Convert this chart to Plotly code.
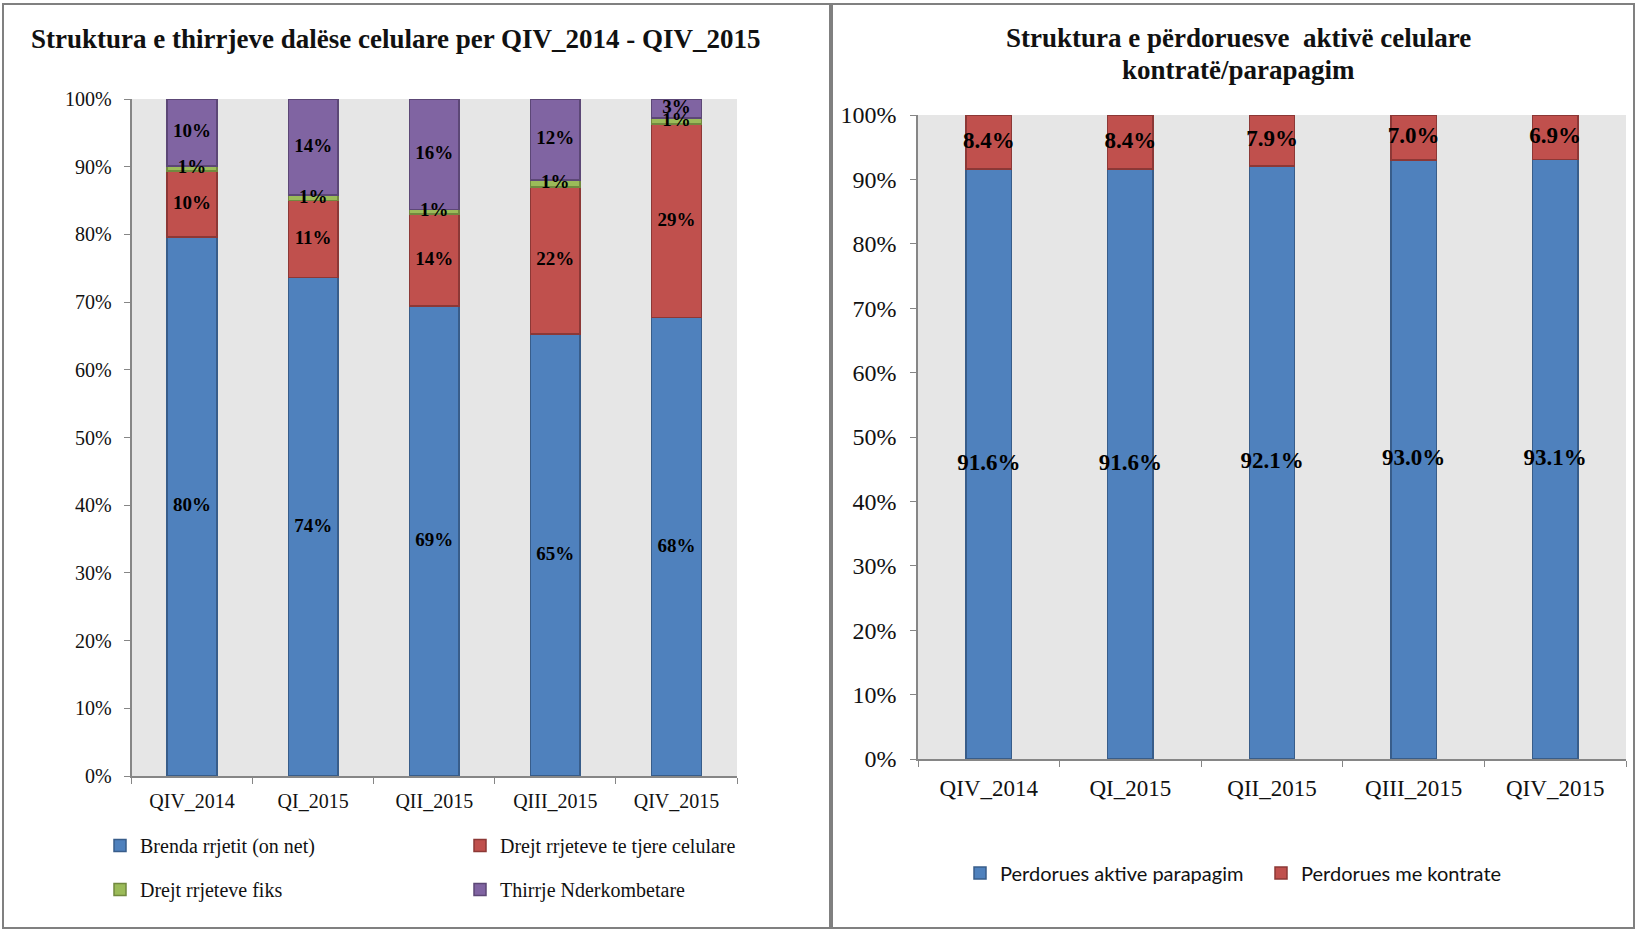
import numpy as np
import plotly.graph_objects as go

# ---------------- data ----------------
quarters = ["QIV_2014", "QI_2015", "QII_2015", "QIII_2015", "QIV_2015"]

# left chart: structure of outgoing mobile calls (%)
on_net = [79.6, 73.6, 69.4, 65.3, 67.7]
other_mobile = [9.8, 11.4, 13.6, 21.7, 28.6]
fixed_net = [0.7, 0.8, 0.7, 1.0, 0.9]
international = [9.9, 14.2, 16.3, 12.0, 2.8]

left_names = ["Brenda rrjetit (on net)", "Drejt rrjeteve te tjere celulare",
              "Drejt rrjeteve fiks", "Thirrje Nderkombetare"]

# right chart: active users contract / prepaid (%)
prepaid = [91.6, 91.6, 92.1, 93.0, 93.1]
contract = [8.4, 8.4, 7.9, 7.0, 6.9]
right_names = ["Perdorues aktive parapagim", "Perdorues me kontrate"]

# ---------------- style ----------------
W, H = 1637, 932
fills = ["#4F81BD", "#C0504D", "#9BBB59", "#8064A2"]
edges = ["#385D8A", "#8C3836", "#71893F", "#5C4776"]
SERIF = "Liberation Serif"
SANS = "Lato"
AX = "#868686"
BG = "#E6E6E6"
TXT = "#111111"

def px_x(p):
    return p / W

def px_y(p):
    return (H - p) / H

fig = go.Figure()

# ---- left chart bars ----
left_series = [on_net, other_mobile, fixed_net, international]
legend_for = ["legend", "legend2", "legend", "legend2"]
base = np.zeros(len(quarters))
for i, (vals, name) in enumerate(zip(left_series, left_names)):
    v = np.array(vals) / 100.0
    fig.add_trace(go.Bar(
        x=quarters, y=v, name=name, xaxis="x", yaxis="y",
        width=0.41,
        marker=dict(color=fills[i], line=dict(color=edges[i], width=1.5)),
        legend=legend_for[i], legendgroup=name, hoverinfo="skip",
    ))
    mids = base + v / 2
    fig.add_trace(go.Scatter(
        x=quarters, y=mids, mode="text", xaxis="x", yaxis="y",
        text=[f"{a:.0f}%" for a in vals],
        textfont=dict(family=SERIF, size=19, color="black", weight="bold"),
        showlegend=False, hoverinfo="skip", cliponaxis=False,
    ))
    base = base + v

# ---- right chart bars ----
base = np.zeros(len(quarters))
for i, (vals, name) in enumerate(zip([prepaid, contract], right_names)):
    v = np.array(vals) / 100.0
    fig.add_trace(go.Bar(
        x=quarters, y=v, name=name, xaxis="x2", yaxis="y2",
        width=0.32,
        marker=dict(color=fills[i], line=dict(color=edges[i], width=1.5)),
        legend="legend3", hoverinfo="skip",
    ))
    mids = base + v / 2
    fig.add_trace(go.Scatter(
        x=quarters, y=mids, mode="text", xaxis="x2", yaxis="y2",
        text=[f"{a:.1f}%" for a in vals],
        textfont=dict(family=SERIF, size=23, color="black", weight="bold"),
        showlegend=False, hoverinfo="skip", cliponaxis=False,
    ))
    base = base + v

common_x = dict(type="category", showgrid=False, showline=True, linecolor=AX,
                linewidth=1.5, ticks="outside", tickson="boundaries", tickcolor=AX,
                ticklen=6, zeroline=False, fixedrange=True, automargin=False)
common_y = dict(range=[0, 1], dtick=0.1, tickformat=".0%", showgrid=False,
                showline=True, linecolor=AX, linewidth=1.5, ticks="outside",
                tickcolor=AX, ticklen=6, zeroline=False, fixedrange=True,
                automargin=False)

fig.update_layout(
    template="none",
    width=W, height=H,
    margin=dict(l=0, r=0, t=0, b=0, pad=0, autoexpand=False),
    paper_bgcolor="white",
    plot_bgcolor=BG,
    barmode="stack",
    showlegend=True,
    xaxis=dict(**common_x, domain=[px_x(131.5), px_x(737)], anchor="y",
               tickfont=dict(family=SERIF, size=20, color=TXT),
               ticklabelstandoff=6),
    yaxis=dict(**common_y, domain=[px_y(776), px_y(99)], anchor="x",
               tickfont=dict(family=SERIF, size=20, color=TXT),
               ticklabelstandoff=8),
    xaxis2=dict(**common_x, domain=[px_x(918), px_x(1626)], anchor="y2",
                tickfont=dict(family=SERIF, size=23, color=TXT),
                ticklabelstandoff=8),
    yaxis2=dict(**common_y, domain=[px_y(759), px_y(115)], anchor="x2",
                tickfont=dict(family=SERIF, size=24, color=TXT),
                ticklabelstandoff=9),
    legend=dict(x=px_x(100), y=px_y(826), xanchor="left", yanchor="top",
                orientation="v", traceorder="grouped", tracegroupgap=15,
                font=dict(family=SERIF, size=20, color=TXT),
                bgcolor="rgba(0,0,0,0)"),
    legend2=dict(x=px_x(460), y=px_y(826), xanchor="left", yanchor="top",
                 orientation="v", traceorder="grouped", tracegroupgap=15,
                 font=dict(family=SERIF, size=20, color=TXT),
                 bgcolor="rgba(0,0,0,0)"),
    legend3=dict(x=px_x(960), y=px_y(873), xanchor="left", yanchor="middle",
                 orientation="h", traceorder="normal", entrywidth=256,
                 font=dict(family=SANS, size=20, color=TXT),
                 bgcolor="rgba(0,0,0,0)"),
    annotations=[
        dict(text="<b>Struktura e thirrjeve dalëse celulare per QIV_2014 - QIV_2015</b>",
             x=px_x(29), y=px_y(39), xref="paper", yref="paper",
             xanchor="left", yanchor="middle", showarrow=False,
             font=dict(family=SERIF, size=27, color=TXT)),
        dict(text="<b>Struktura e përdoruesve  aktivë celulare</b>",
             x=px_x(1238), y=px_y(38), xref="paper", yref="paper",
             xanchor="center", yanchor="middle", showarrow=False,
             font=dict(family=SERIF, size=27, color=TXT)),
        dict(text="<b>kontratë/parapagim</b>",
             x=px_x(1238), y=px_y(70), xref="paper", yref="paper",
             xanchor="center", yanchor="middle", showarrow=False,
             font=dict(family=SERIF, size=27, color=TXT)),
    ],
    shapes=[
        dict(type="rect", xref="paper", yref="paper",
             x0=px_x(3), x1=px_x(830), y0=px_y(928), y1=px_y(4),
             line=dict(color="#808080", width=2), fillcolor="rgba(0,0,0,0)"),
        dict(type="rect", xref="paper", yref="paper",
             x0=px_x(832), x1=px_x(1634), y0=px_y(928), y1=px_y(4),
             line=dict(color="#808080", width=2), fillcolor="rgba(0,0,0,0)"),
    ],
)

fig.write_html(
    "out.html",
    config={"displayModeBar": False},
    post_script="document.body.style.margin='0px';document.body.style.overflow='hidden';",
)
